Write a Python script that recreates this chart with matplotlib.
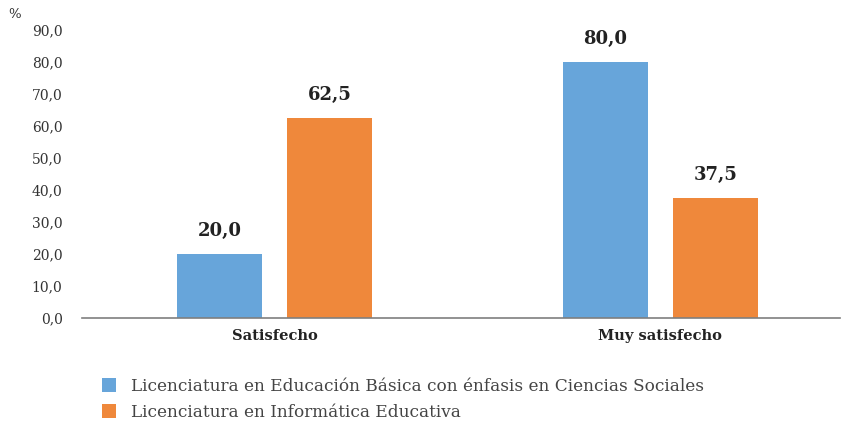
import matplotlib
matplotlib.use("Agg")
import matplotlib.pyplot as plt
from matplotlib.patches import Patch
import numpy as np

categories = ["Satisfecho", "Muy satisfecho"]
series_names = ["Licenciatura en Educación Básica con énfasis en Ciencias Sociales",
                "Licenciatura en Informática Educativa"]
basica = [20.0, 80.0]
informatica = [62.5, 37.5]
yticks = [0, 10, 20, 30, 40, 50, 60, 70, 80, 90]

colors = ["#67A5DA", "#EF883B"]
txt = "#333333"
plt.rcParams["font.family"] = ["DejaVu Serif"]

fig = plt.figure(figsize=(8.44, 4.23), dpi=100)
ax = fig.add_axes([82 / 844, 105 / 423, 758 / 844, 288 / 423])

x = np.arange(len(categories))
w = 0.22
off = 0.1427
for vals, dx, c in [(basica, -off, colors[0]), (informatica, off, colors[1])]:
    bars = ax.bar(x + dx, vals, width=w, color=c)
    for b, v in zip(bars, vals):
        ax.text(b.get_x() + b.get_width() / 2, v + 4.5, f"{v:.1f}".replace(".", ","),
                ha="center", va="bottom", fontsize=13, fontweight="bold", color="#222222")

ax.set_xlim(-0.5, -0.5 + 758 / 385.5)
ax.set_ylim(0, 90)
ax.set_yticks(yticks)
ax.set_yticklabels([f"{t:.1f}".replace(".", ",") for t in yticks], fontsize=10, color=txt)
ax.set_xticks(x)
ax.set_xticklabels(categories, fontsize=10.5, fontweight="bold", color="#222222")
ax.tick_params(axis="y", length=0, pad=14)
ax.tick_params(axis="x", length=0, pad=8)
for s in ["top", "right", "left"]:
    ax.spines[s].set_visible(False)
ax.spines["bottom"].set_color("#7f7f7f")
ax.spines["bottom"].set_linewidth(1.2)

fig.text(8 / 844, 1 - 14 / 423, "%", fontsize=9.5, color=txt, va="center")

handles = [Patch(facecolor=c) for c in colors]
fig.legend(handles, series_names, loc="upper left", bbox_to_anchor=(95 / 844, 1 - 371 / 423),
           frameon=False, fontsize=12.2, labelcolor="#444444", handlelength=0.85,
           handleheight=0.85, handletextpad=0.9, labelspacing=0.55, borderaxespad=0)

fig.savefig("out.png", dpi=100)
